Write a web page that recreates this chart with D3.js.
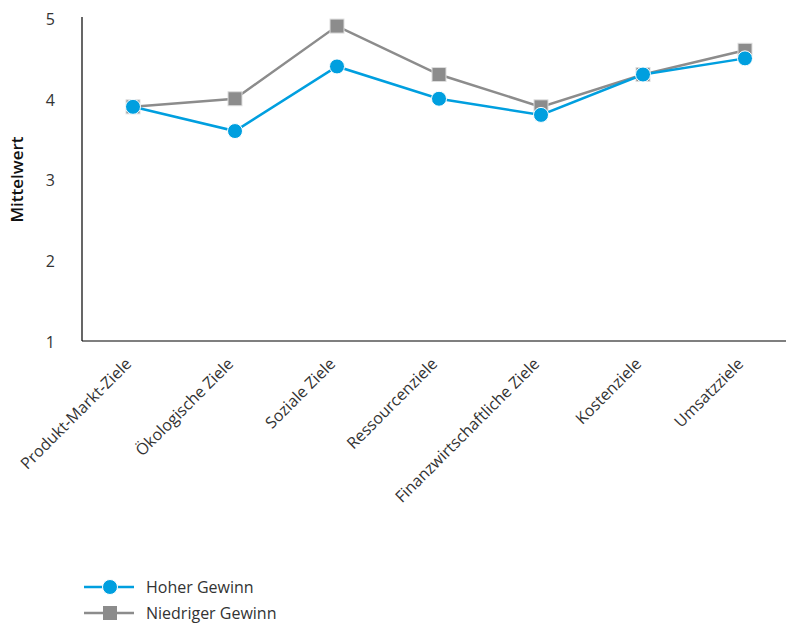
<!DOCTYPE html>
<html>
<head>
<meta charset="utf-8">
<script src="https://cdn.jsdelivr.net/npm/d3@7"></script>
<style>
  body { margin: 0; background: #fff; }
  svg { display: block; font-family: "Open Sans", "Noto Sans", sans-serif; }
</style>
</head>
<body>
<svg id="chart" width="787" height="623"></svg>
<script>
// Zielkategorien und Mittelwerte je Gruppe
const categories = ["Produkt-Markt-Ziele", "Ökologische Ziele", "Soziale Ziele", "Ressourcenziele",
  "Finanzwirtschaftliche Ziele", "Kostenziele", "Umsatzziele"];
const hoherGewinn = [3.9, 3.6, 4.4, 4.0, 3.8, 4.3, 4.5];
const niedrigerGewinn = [3.9, 4.0, 4.9, 4.3, 3.9, 4.3, 4.6];
const yTicks = [1, 2, 3, 4, 5];
const seriesNames = ["Hoher Gewinn", "Niedriger Gewinn"];

const blue = "#009fdf";
const grey = "#8c8c8c";
const textColor = "#333";
const fontFamily = "Open Sans, Noto Sans, sans-serif";

const svg = d3.select("#chart");
const plotLeft = 82, plotRight = 786, plotTop = 18, plotBottom = 341;

const x = d3.scalePoint().domain(categories).range([133, 745]);
const y = d3.scaleLinear().domain([1, 5]).range([plotBottom, plotTop]);

// Achsen
svg.append("line").attr("x1", plotLeft).attr("x2", plotLeft).attr("y1", plotTop - 1).attr("y2", plotBottom)
  .attr("stroke", "#000").attr("stroke-width", 1.2);
svg.append("line").attr("x1", plotLeft).attr("x2", plotRight).attr("y1", plotBottom).attr("y2", plotBottom)
  .attr("stroke", "#000").attr("stroke-width", 1.2);

const yAxis = d3.axisLeft(y).tickValues(yTicks).tickFormat(d3.format("d")).tickSize(0).tickPadding(0);
svg.append("g").attr("transform", `translate(${plotLeft - 27},0)`).call(yAxis)
  .call(g => g.select(".domain").remove())
  .call(g => g.selectAll("text").attr("font-size", 16).attr("font-weight", 400).attr("fill", textColor)
    .attr("font-family", fontFamily).attr("dy", "0.4em"));

svg.append("text")
  .attr("transform", `translate(23,${(plotTop + plotBottom) / 2}) rotate(-90)`)
  .attr("text-anchor", "middle").attr("font-size", 17).attr("font-weight", 600)
  .attr("fill", "#111").text("Mittelwert");

const xAxis = d3.axisBottom(x).tickSize(0).tickPadding(0);
svg.append("g").attr("transform", `translate(0,${plotBottom})`).call(xAxis)
  .call(g => g.select(".domain").remove())
  .call(g => g.selectAll("text")
    .attr("font-size", 16).attr("font-weight", 400).attr("fill", textColor)
    .attr("font-family", fontFamily)
    .attr("text-anchor", "end")
    .attr("dy", "0.35em")
    .attr("transform", "translate(-5,20) rotate(-45)"));

// Linien und Marker
const line = d3.line().x((d, i) => x(categories[i])).y(d => y(d));

function drawSeries(values, color, shape) {
  svg.append("path").datum(values).attr("d", line)
    .attr("fill", "none").attr("stroke", color).attr("stroke-width", 2.5);
  if (shape === "square") {
    svg.selectAll(null).data(values).enter().append("rect")
      .attr("x", (d, i) => x(categories[i]) - 7).attr("y", d => y(d) - 7)
      .attr("width", 14).attr("height", 14)
      .attr("fill", color).attr("stroke", "#ddd").attr("stroke-width", 1);
  } else {
    svg.selectAll(null).data(values).enter().append("circle")
      .attr("cx", (d, i) => x(categories[i])).attr("cy", d => y(d)).attr("r", 7.5)
      .attr("fill", color).attr("stroke", "#fff").attr("stroke-width", 1);
  }
}
drawSeries(niedrigerGewinn, grey, "square");
drawSeries(hoherGewinn, blue, "circle");

// Legende
const legend = [
  { name: seriesNames[0], color: blue, shape: "circle", y: 587 },
  { name: seriesNames[1], color: grey, shape: "square", y: 613 }
];
legend.forEach(l => {
  svg.append("line").attr("x1", 84).attr("x2", 134).attr("y1", l.y).attr("y2", l.y)
    .attr("stroke", l.color).attr("stroke-width", 2.5);
  if (l.shape === "circle") {
    svg.append("circle").attr("cx", 110).attr("cy", l.y).attr("r", 7.5).attr("fill", l.color)
      .attr("stroke", "#fff").attr("stroke-width", 1);
  } else {
    svg.append("rect").attr("x", 103).attr("y", l.y - 7).attr("width", 14).attr("height", 14)
      .attr("fill", l.color);
  }
  svg.append("text").attr("x", 146).attr("y", l.y).attr("dy", "0.35em")
    .attr("font-size", 16).attr("font-weight", 400).attr("fill", textColor).text(l.name);
});
</script>
</body>
</html>
